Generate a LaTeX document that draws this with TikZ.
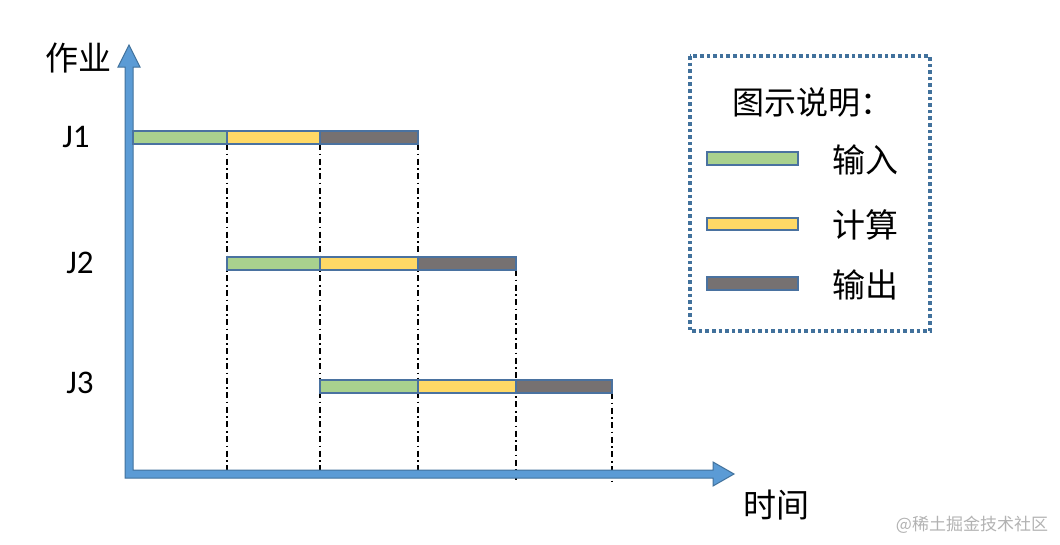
\documentclass[tikz,border=0pt]{standalone}
\usepackage{fontspec}
\setmainfont{Carlito}
\newfontfamily\cjk{Noto Sans CJK SC}
\usetikzlibrary{calc}
\definecolor{axisfill}{HTML}{5B9BD5}
\definecolor{axisline}{HTML}{41719C}
\definecolor{barline}{HTML}{4A72A0}
\definecolor{inputgreen}{HTML}{A9D18E}
\definecolor{computeyellow}{HTML}{FFD966}
\definecolor{outputgray}{HTML}{767171}
\definecolor{legendline}{HTML}{41719C}
\tikzset{
    cjklbl/.style={
        inner sep=0pt,
        font=\cjk\fontsize{33}{40}\selectfont
    },
    joblbl/.style={
        inner sep=0pt,
        font=\fontsize{33}{38}\selectfont
    },
    bar/.style={
        draw=barline,
        line width=1.4pt
    },
    guide/.style={
        line width=1.4pt,
        dash pattern=on 6pt off 3.5pt on 1.6pt off 3.5pt
    },
    legendframe/.style={
        draw=legendline,
        line width=3.6pt,
        dash pattern=on 3.6pt off 3pt
    },
    creditlbl/.style={
        inner sep=0pt,
        text=black!30,
        font=\cjk\fontsize{17}{20}\selectfont
    }
}
\begin{document}
\begin{tikzpicture}[x=1pt,y=-1pt]

\useasboundingbox (0,0) rectangle (1060,544);

% guide lines down to the time axis
\draw[guide] (227,144) -- (227,478);
\draw[guide] (320,144) -- (320,478);
\draw[guide] (418,144) -- (418,478);
\draw[guide] (516,270) -- (516,480);
\draw[guide] (612,393) -- (612,482);

% axes
\draw[axisline, fill=axisfill, line width=1pt]
    (125,478) -- (713,478) -- (713,486) -- (734,474) -- (713,462)
    -- (713,470) -- (133,470) -- (133,67) -- (140,67) -- (129,45)
    -- (118,67) -- (125,67) -- cycle;

% job bars: input, compute, output
\foreach \y/\a/\b/\c/\d in {131/133/227/320/418,
                            257/227/320/418/516,
                            380/320/418/516/612} {
    \draw[bar, fill=inputgreen] (\a,\y) rectangle (\b,\y+13);
    \draw[bar, fill=computeyellow] (\b,\y) rectangle (\c,\y+13);
    \draw[bar, fill=outputgray] (\c,\y) rectangle (\d,\y+13);
}

\node[cjklbl] (ylabel) at (78,58) {作业};
\node[cjklbl] (xlabel) at (776,505) {时间};
\node[joblbl] (j1) at (76,137) {J1};
\node[joblbl] (j2) at (80,263) {J2};
\node[joblbl] (j3) at (80,383) {J3};

% legend
\draw[legendframe] (690,56) rectangle (930,331);
\node[cjklbl, font=\cjk\fontsize{32}{38}\selectfont] (legtitle) at (812,102) {图示说明：};
\draw[bar, fill=inputgreen] (707,152) rectangle (798,165);
\draw[bar, fill=computeyellow] (707,218) rectangle (798,230);
\draw[bar, fill=outputgray] (707,277) rectangle (798,290);
\node[cjklbl] (leginput) at (865,160) {输入};
\node[cjklbl] (legcompute) at (865,225) {计算};
\node[cjklbl] (legoutput) at (865,285) {输出};

\node[creditlbl] (credit) at (972,525) {@稀土掘金技术社区};

\end{tikzpicture}
\end{document}
